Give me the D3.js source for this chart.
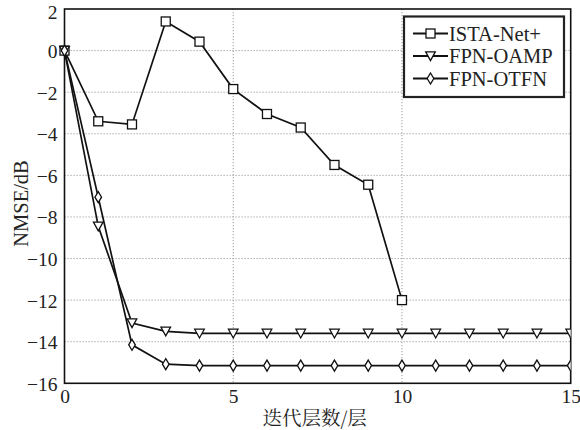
<!DOCTYPE html>
<html><head><meta charset="utf-8">
<script src="https://cdn.jsdelivr.net/npm/d3@7"></script>
<style>body{margin:0;background:#fff}</style>
</head><body>
<svg id="c" width="580" height="430"></svg>
<script>
const iterations = d3.range(0, 16);
const istaX = [0,1,2,3,4,5,6,7,8,9,10];
const istaNet = [0,-3.4,-3.55,1.4,0.43,-1.85,-3.05,-3.7,-5.5,-6.45,-12.0];
const fpnOamp = [0,-8.45,-13.1,-13.5,-13.6,-13.6,-13.6,-13.6,-13.6,-13.6,-13.6,-13.6,-13.6,-13.6,-13.6,-13.6];
const fpnOtfn = [0,-7.05,-14.15,-15.08,-15.15,-15.15,-15.15,-15.15,-15.15,-15.15,-15.15,-15.15,-15.15,-15.15,-15.15,-15.15];
const xTicks = [0,5,10,15];
const yTicks = [2,0,-2,-4,-6,-8,-10,-12,-14,-16];
const seriesNames = ["ISTA-Net+","FPN-OAMP","FPN-OTFN"];

const svg = d3.select("#c");
const L=64.5, R=570.7, T=9, B=383.3;
const x = d3.scaleLinear().domain([0,15]).range([L,R]);
const y = d3.scaleLinear().domain([-16,2]).range([B,T]);
const serif = "'Liberation Serif','Times New Roman',serif";

// grid
const g = svg.append("g");
g.selectAll(".hg").data(yTicks.filter(d=>d>-16&&d<2)).join("line")
 .attr("x1",L).attr("x2",R).attr("y1",d=>y(d)).attr("y2",d=>y(d))
 .attr("stroke","#9a9a9a").attr("stroke-width",1).attr("stroke-dasharray","1.2,1.8");
g.selectAll(".vg").data(xTicks.filter(d=>d>0&&d<15)).join("line")
 .attr("y1",T).attr("y2",B).attr("x1",d=>x(d)).attr("x2",d=>x(d))
 .attr("stroke","#9a9a9a").attr("stroke-width",1).attr("stroke-dasharray","1.2,1.8");

// axes
const xa = svg.append("g").attr("transform",`translate(0,${B})`)
 .call(d3.axisBottom(x).tickValues(xTicks).tickSize(0).tickPadding(4));
xa.select(".domain").remove();
xa.selectAll("text").attr("font-family",serif).attr("font-size",19.5).attr("fill","#222").attr("dy","0.8em");
const ya = svg.append("g").attr("transform",`translate(${L},0)`)
 .call(d3.axisLeft(y).tickValues(yTicks).tickSize(0).tickPadding(7).tickFormat(d=>d<0?"\u2212"+Math.abs(d):d));
ya.select(".domain").remove();
ya.selectAll("text").attr("font-family",serif).attr("font-size",19.5).attr("fill","#222")
 .attr("dy",d=>d===2?"0.5em":"0.36em");

svg.append("rect").attr("x",L).attr("y",T).attr("width",R-L).attr("height",B-T)
 .attr("fill","none").attr("stroke","#111").attr("stroke-width",1.6);

// lines
const line = d3.line().x(d=>x(d[0])).y(d=>y(d[1]));
const dataSets = [
  istaX.map((v,i)=>[v,istaNet[i]]),
  iterations.map((v,i)=>[v,fpnOamp[i]]),
  iterations.map((v,i)=>[v,fpnOtfn[i]])
];
const clip = svg.append("clipPath").attr("id","cp").append("rect")
 .attr("x",L-6).attr("y",T-6).attr("width",R-L+6).attr("height",B-T+12);
const pg = svg.append("g");
dataSets.forEach(ds=>{
  pg.append("path").attr("d",line(ds)).attr("fill","none").attr("stroke","#111").attr("stroke-width",1.7);
});
function marker(sel,type,cx,cy){
  if(type===0) sel.append("rect").attr("x",cx-4.5).attr("y",cy-4.5).attr("width",9).attr("height",9);
  else if(type===1) sel.append("path").attr("d",`M${cx-4.8},${cy-4.2}L${cx+4.8},${cy-4.2}L${cx},${cy+4.6}Z`);
  else sel.append("path").attr("d",`M${cx},${cy-5.5}L${cx+3.3},${cy}L${cx},${cy+5.5}L${cx-3.3},${cy}Z`);
}
const mg = svg.append("g").attr("clip-path","url(#cp)").attr("fill","#fff").attr("stroke","#111").attr("stroke-width",1.3);
dataSets.forEach((ds,k)=>{
  ds.forEach(d=>marker(mg,k,x(d[0]),y(d[1])));
});

// legend
const lg = svg.append("g");
lg.append("rect").attr("x",404).attr("y",16.5).attr("width",160).attr("height",80.5)
 .attr("fill","#fff").attr("stroke","#222").attr("stroke-width",2.2);
seriesNames.forEach((n,i)=>{
  const yy = 33.5 + i*22.5;
  lg.append("line").attr("x1",413).attr("x2",448).attr("y1",yy).attr("y2",yy).attr("stroke","#111").attr("stroke-width",2);
  const m = lg.append("g").attr("fill","#fff").attr("stroke","#111").attr("stroke-width",1.3);
  marker(m,i,430.5,yy);
  lg.append("text").attr("x",449).attr("y",yy).attr("dy","0.35em").attr("font-family",serif).attr("font-size",20.5).attr("fill","#222").text(n);
});

// axis titles
svg.append("text").attr("x",(L+R)/2-3).attr("y",418).attr("dy","0.35em").attr("text-anchor","middle")
 .attr("font-family","'Noto Serif CJK SC','Noto Sans CJK SC',sans-serif").attr("font-size",19.5).attr("fill","#222").text("迭代层数/层");
svg.append("text").attr("transform",`translate(21,203.5) rotate(-90)`).attr("text-anchor","middle").attr("dy","0.35em")
 .attr("font-family",serif).attr("font-size",20.5).attr("fill","#222").text("NMSE/dB");
</script>
</body></html>
